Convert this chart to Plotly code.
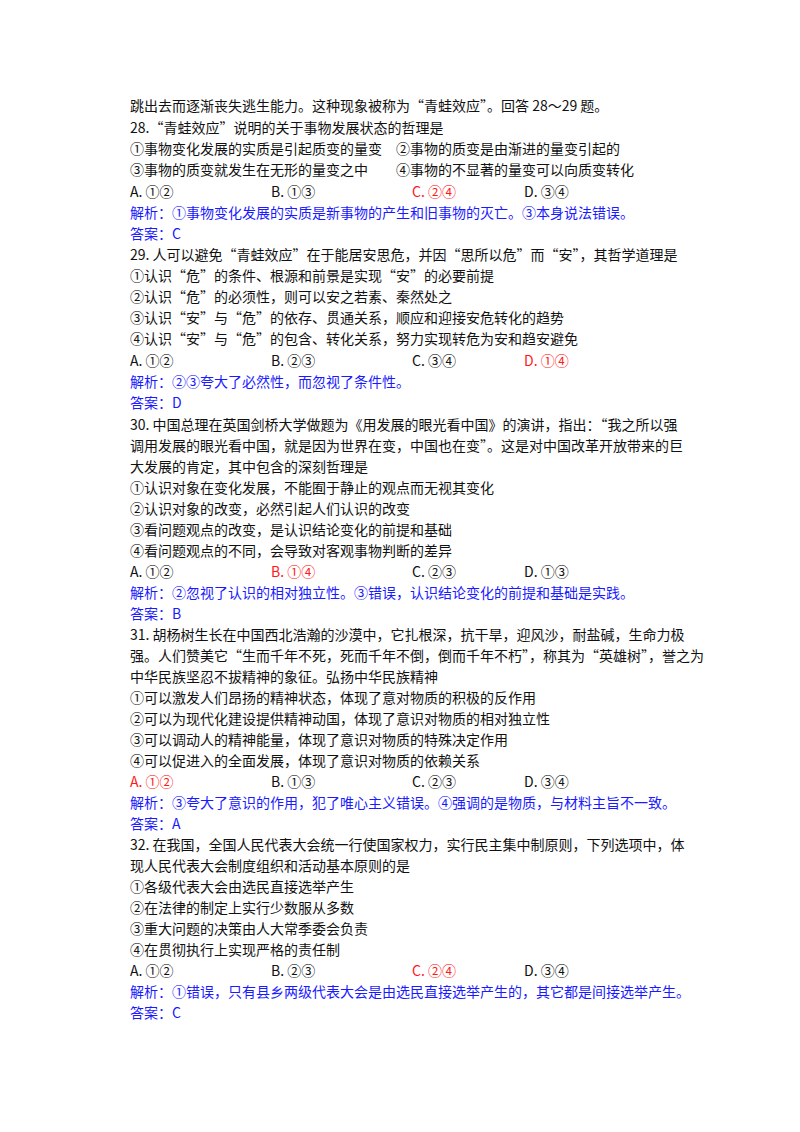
import plotly.graph_objects as go

BLACK, BLUE, RED = "#111111", "#1a1aff", "#ff1a1a"

# (y pixel, text, color)
text_lines = [
    (106, "跳出去而逐渐丧失逃生能力。这种现象被称为“青蛙效应”。回答 28～29 题。", BLACK),
    (128, "28.“青蛙效应”说明的关于事物发展状态的哲理是", BLACK),
    (149, "①事物变化发展的实质是引起质变的量变　②事物的质变是由渐进的量变引起的", BLACK),
    (170, "③事物的质变就发生在无形的量变之中　　④事物的不显著的量变可以向质变转化", BLACK),
    (213, "解析：①事物变化发展的实质是新事物的产生和旧事物的灭亡。③本身说法错误。", BLUE),
    (234, "答案：C", BLUE),
    (255, "29. 人可以避免“青蛙效应”在于能居安思危，并因“思所以危”而“安”，其哲学道理是", BLACK),
    (276, "①认识“危”的条件、根源和前景是实现“安”的必要前提", BLACK),
    (297, "②认识“危”的必须性，则可以安之若素、秦然处之", BLACK),
    (318, "③认识“安”与“危”的依存、贯通关系，顺应和迎接安危转化的趋势", BLACK),
    (339, "④认识“安”与“危”的包含、转化关系，努力实现转危为安和趋安避免", BLACK),
    (382, "解析：②③夸大了必然性，而忽视了条件性。", BLUE),
    (403, "答案：D", BLUE),
    (425, "30. 中国总理在英国剑桥大学做题为《用发展的眼光看中国》的演讲，指出：“我之所以强", BLACK),
    (446, "调用发展的眼光看中国，就是因为世界在变，中国也在变”。这是对中国改革开放带来的巨", BLACK),
    (467, "大发展的肯定，其中包含的深刻哲理是", BLACK),
    (488, "①认识对象在变化发展，不能囿于静止的观点而无视其变化", BLACK),
    (509, "②认识对象的改变，必然引起人们认识的改变", BLACK),
    (530, "③看问题观点的改变，是认识结论变化的前提和基础", BLACK),
    (551, "④看问题观点的不同，会导致对客观事物判断的差异", BLACK),
    (593, "解析：②忽视了认识的相对独立性。③错误，认识结论变化的前提和基础是实践。", BLUE),
    (614, "答案：B", BLUE),
    (635, "31. 胡杨树生长在中国西北浩瀚的沙漠中，它扎根深，抗干旱，迎风沙，耐盐碱，生命力极", BLACK),
    (656, "强。人们赞美它“生而千年不死，死而千年不倒，倒而千年不朽”，称其为“英雄树”，誉之为", BLACK),
    (677, "中华民族坚忍不拔精神的象征。弘扬中华民族精神", BLACK),
    (698, "①可以激发人们昂扬的精神状态，体现了意对物质的积极的反作用", BLACK),
    (719, "②可以为现代化建设提供精神动国，体现了意识对物质的相对独立性", BLACK),
    (740, "③可以调动人的精神能量，体现了意识对物质的特殊决定作用", BLACK),
    (761, "④可以促进入的全面发展，体现了意识对物质的依赖关系", BLACK),
    (803, "解析：③夸大了意识的作用，犯了唯心主义错误。④强调的是物质，与材料主旨不一致。", BLUE),
    (824, "答案：A", BLUE),
    (845, "32. 在我国，全国人民代表大会统一行使国家权力，实行民主集中制原则，下列选项中，体", BLACK),
    (866, "现人民代表大会制度组织和活动基本原则的是", BLACK),
    (887, "①各级代表大会由选民直接选举产生", BLACK),
    (908, "②在法律的制定上实行少数服从多数", BLACK),
    (929, "③重大问题的决策由人大常季委会负责", BLACK),
    (950, "④在贯彻执行上实现严格的责任制", BLACK),
    (992, "解析：①错误，只有县乡两级代表大会是由选民直接选举产生的，其它都是间接选举产生。", BLUE),
    (1013, "答案：C", BLUE),
]

# option rows: y pixel, four option texts, index of the correct one
option_rows = [
    (192, ["A. ①②", "B. ①③", "C. ②④", "D. ③④"], 2),
    (361, ["A. ①②", "B. ②③", "C. ③④", "D. ①④"], 3),
    (572, ["A. ①②", "B. ①④", "C. ②③", "D. ①③"], 1),
    (782, ["A. ①②", "B. ①③", "C. ②③", "D. ③④"], 0),
    (971, ["A. ①②", "B. ②③", "C. ②④", "D. ③④"], 2),
]
option_x = [120, 261, 402, 514]

W, H = 800, 1132
SHIFT = -9
fig = go.Figure()
ann = []
font = "Noto Sans CJK SC"
for y, t, c in text_lines:
    ann.append(dict(x=120 / W, y=1 - (y + SHIFT) / H, xref="paper", yref="paper", text=t,
                    showarrow=False, xanchor="left", yanchor="middle",
                    font=dict(family=font, size=14, color=c)))
for y, opts, k in option_rows:
    for i, t in enumerate(opts):
        ann.append(dict(x=option_x[i] / W, y=1 - (y + SHIFT) / H, xref="paper", yref="paper", text=t,
                        showarrow=False, xanchor="left", yanchor="middle",
                        font=dict(family=font, size=14, color=RED if i == k else BLACK)))
fig.update_layout(width=W, height=H, margin=dict(l=0, r=0, t=0, b=0),
                  paper_bgcolor="white", plot_bgcolor="white", annotations=ann,
                  xaxis=dict(visible=False), yaxis=dict(visible=False))
fig.write_html("out.html")
